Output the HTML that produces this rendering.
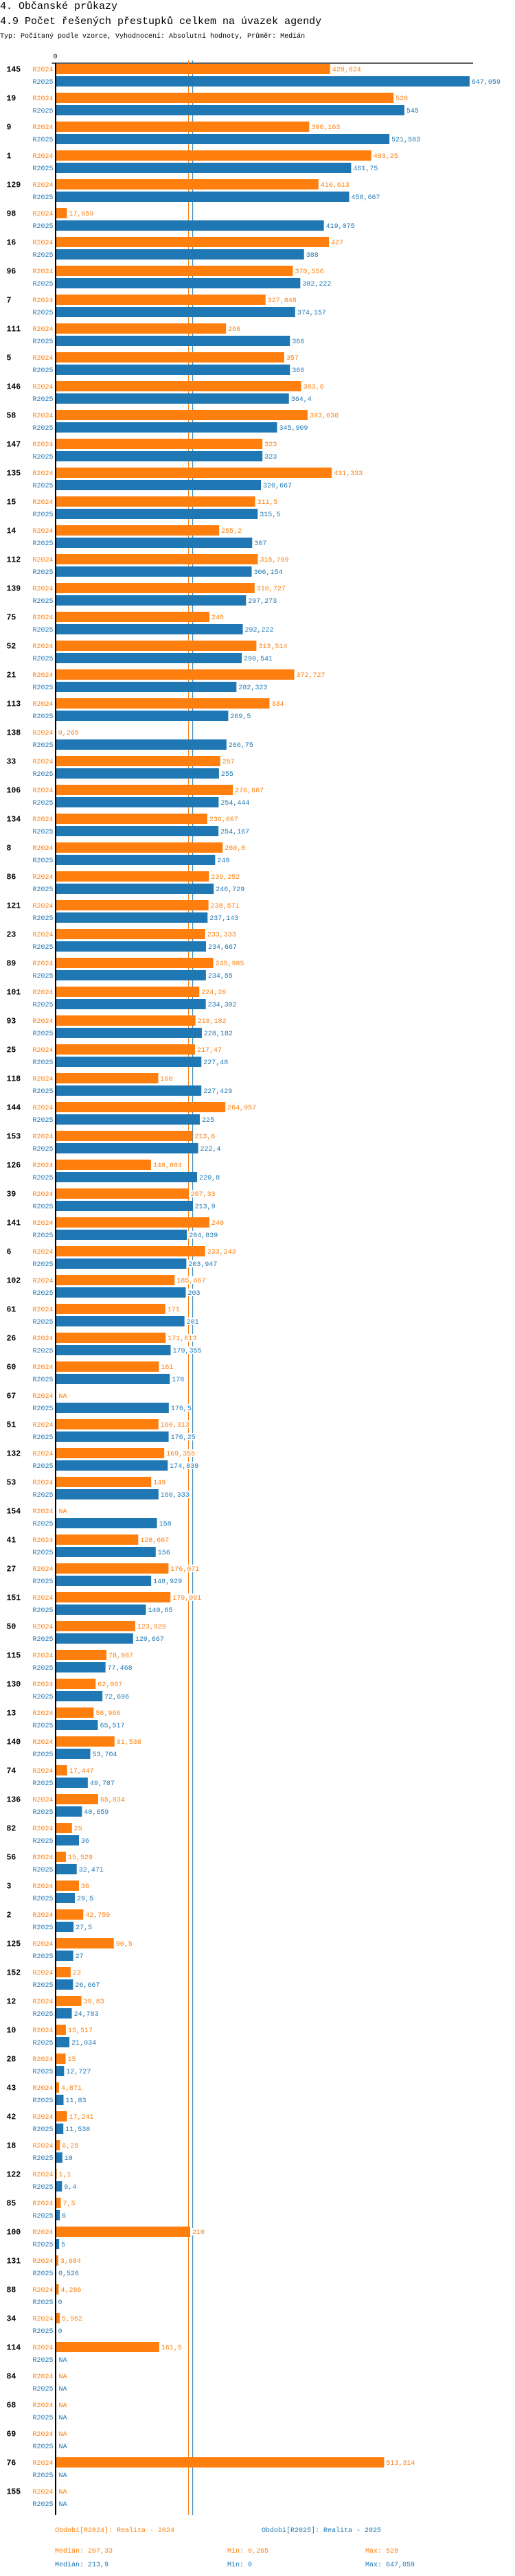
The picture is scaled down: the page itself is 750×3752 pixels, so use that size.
<!DOCTYPE html>
<html><head><meta charset="utf-8">
<style>
body{margin:0;background:#fff;}
svg{display:block;font-family:"Liberation Mono",monospace;}
</style></head>
<body>
<svg id="chart" width="750" height="3752" viewBox="0 0 750 3752" xmlns="http://www.w3.org/2000/svg">
<text x="0" y="13" font-size="15" fill="#000">4. Občanské průkazy</text>
<text x="0" y="35" font-size="15" fill="#000">4.9 Počet řešených přestupků celkem na úvazek agendy</text>
<text x="0" y="55" font-size="10" fill="#000">Typ: Počítaný podle vzorce, Vyhodnocení: Absolutní hodnoty, Průměr: Medián</text>
<g id="plot"></g>
<g id="legend">
<text x="80" y="3688" font-size="10" fill="#ff7f0e">Období[R2024]: Realita - 2024</text>
<text x="381" y="3688" font-size="10" fill="#1f77b4">Období[R2025]: Realita - 2025</text>
<text x="80" y="3718" font-size="10" fill="#ff7f0e">Medián: 207,33</text>
<text x="331" y="3718" font-size="10" fill="#ff7f0e">Min: 0,265</text>
<text x="532" y="3718" font-size="10" fill="#ff7f0e">Max: 528</text>
<text x="80" y="3738" font-size="10" fill="#1f77b4">Medián: 213,9</text>
<text x="331" y="3738" font-size="10" fill="#1f77b4">Min: 0</text>
<text x="532" y="3738" font-size="10" fill="#1f77b4">Max: 647,059</text>
</g>
</svg>
<script>
const categories = ["145","19","9","1","129","98","16","96","7","111","5","146","58","147","135","15","14","112","139","75","52","21","113","138","33","106","134","8","86","121","23","89","101","93","25","118","144","153","126","39","141","6","102","61","26","60","67","51","132","53","154","41","27","151","50","115","130","13","140","74","136","82","56","3","2","125","152","12","10","28","43","42","18","122","85","100","131","88","34","114","84","68","69","76","155"];
const values2024 = [428.824,528,396.163,493.25,410.613,17.059,427,370.556,327.848,266,357,383.6,393.636,323,431.333,311.5,255.2,315.769,310.727,240,313.514,372.727,334,0.265,257,276.667,236.667,260.8,239.252,238.571,233.333,245.985,224.26,218.182,217.47,160,264.957,213.6,148.684,207.33,240,233.243,185.667,171,171.613,161,null,160.313,169.355,149,null,128.667,176.071,179.091,123.929,78.987,62.087,58.966,91.538,17.447,65.934,25,15.529,36,42.759,90.5,23,39.83,15.517,15,4.871,17.241,6.25,1.1,7.5,210,3.684,4.286,5.952,161.5,null,null,null,513.314,null];
const values2025 = [647.059,545,521.583,461.75,458.667,419.075,388,382.222,374.157,366,366,364.4,345.909,323,320.667,315.5,307,306.154,297.273,292.222,290.541,282.323,269.5,266.75,255,254.444,254.167,249,246.729,237.143,234.667,234.55,234.302,228.182,227.48,227.429,225,222.4,220.8,213.9,204.839,203.947,203,201,179.355,178,176.5,176.25,174.839,160.333,158,156,148.929,140.65,120.667,77.468,72.696,65.517,53.704,49.787,40.659,36,32.471,29.5,27.5,27,26.667,24.783,21.034,12.727,11.83,11.538,10,9.4,6,5,0.526,0,0,null,null,null,null,null,null];
const seriesNames = ["R2024","R2025"];
const medians = [207.33, 213.9];
const tickValues = [0];

const NS = "http://www.w3.org/2000/svg";
const colors = ["#ff7f0e","#1f77b4"];
const x0 = 81.5, k = 0.931;
function xScale(v){ return x0 + v * k; }
const top0 = 93, groupH = 42, barStep = 18, barH = 15;
function yScale(gi, si){ return top0 + gi * groupH + si * barStep; }
const plot = document.getElementById("plot");
function mk(tag, attrs, txt){
  const e = document.createElementNS(NS, tag);
  for (const a in attrs) e.setAttribute(a, attrs[a]);
  if (txt !== undefined) e.textContent = txt;
  plot.appendChild(e);
  return e;
}
function fmt(v){ return String(v).replace(".", ","); }
const yEnd = yScale(categories.length - 1, 1) + barH + 9;

// axis
let ax = mk("line", {x1: 75.5, x2: 689, y1: 92, y2: 92, stroke: "#000", "stroke-width": 1.2});


tickValues.forEach(t => {
  const tl = mk("text", {x: xScale(t) - 1, y: 85, "font-size": 10, "text-anchor": "middle", fill: "#000"}, String(t));
  
  
});
// median lines
medians.forEach((m, si) => {
  const ml = mk("line", {x1: xScale(m), x2: xScale(m), y1: 88, y2: yEnd, stroke: colors[si], "stroke-width": 1});
  
  
});

const series = [values2024, values2025];
categories.forEach((c, gi) => {
  const gl = mk("text", {x: 9.5, y: yScale(gi, 0) + 11.5, "font-size": 11.5, "font-weight": "bold", fill: "#000"}, c);
  
  
  series.forEach((vals, si) => {
    const y = yScale(gi, si);
    const v = vals[gi];
    const sl = mk("text", {x: 77.5, y: y + 11, "font-size": 10, "text-anchor": "end", fill: colors[si]}, seriesNames[si]);
    
    
    let endX = xScale(0) + 1;
    if (v !== null) {
      const w = Math.max(0, xScale(v) - xScale(0));
      if (w > 0) {
        const r = mk("rect", {x: xScale(0), y: y, width: w, height: barH, fill: colors[si]});
        
        
      }
      endX = xScale(v);
    }
    const label = v === null ? "NA" : fmt(v);
    const lx = endX + 3;
    const bg = mk("rect", {x: lx - 1, y: y + 2, width: label.length * 6 + 2, height: 11, fill: "#fff"});
    
    
    const vl = mk("text", {x: lx, y: y + 11, "font-size": 10, fill: colors[si]}, label);
    
    
  });
});
// y axis line (drawn on top)
let yl = mk("line", {x1: 81, x2: 81, y1: 92, y2: yEnd, stroke: "#000", "stroke-width": 2});


</script>
</body></html>
